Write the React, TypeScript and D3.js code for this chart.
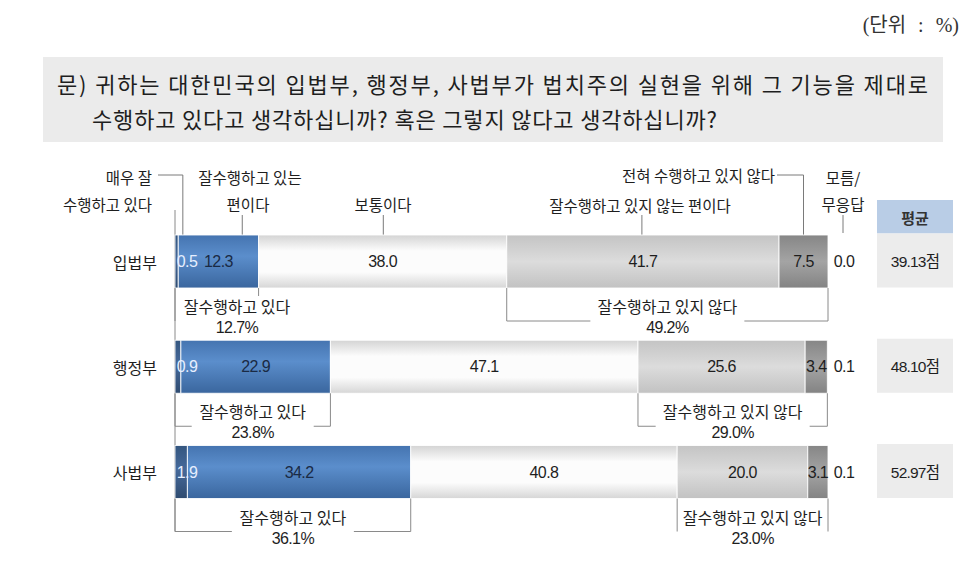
import React from 'react';
import * as d3 from 'd3';

const categories = ['입법부', '행정부', '사법부'];
const veryWell = [0.5, 0.9, 1.9];
const well = [12.3, 22.9, 34.2];
const neutral = [38.0, 47.1, 40.8];
const notWell = [41.7, 25.6, 20.0];
const notAtAll = [7.5, 3.4, 3.1];
const dontKnow = [0.0, 0.1, 0.1];
const positiveTotal = [12.7, 23.8, 36.1];
const negativeTotal = [49.2, 29.0, 23.0];
const averageScore = ['39.13', '48.10', '52.97'];

const positiveLabel = '잘수행하고 있다';
const negativeLabel = '잘수행하고 있지 않다';
const titleLine1 = '문) 귀하는 대한민국의 입법부, 행정부, 사법부가 법치주의 실현을 위해 그 기능을 제대로';
const titleLine2 = '수행하고 있다고 생각하십니까? 혹은 그렇지 않다고 생각하십니까?';
const unitLabel = '(단위 : %)';
const avgHeader = '평균';

const SANS = "'Liberation Sans', 'Noto Sans CJK KR', sans-serif";
const KR = "'Noto Sans CJK KR', 'Liberation Sans', sans-serif";
const SERIF = "'Liberation Serif', 'Noto Sans CJK KR', serif";

const segKeys = ['vw', 'w', 'n', 'nw', 'na'];
const gradients: Record<string, [number, string][]> = {
  vw: [[0, '#34567f'], [0.45, '#46699a'], [1, '#2e4b70']],
  w: [[0, '#4574b0'], [0.4, '#5b8ecc'], [1, '#3a669e']],
  n: [[0, '#d4d4d4'], [0.3, '#fcfcfc'], [0.7, '#fcfcfc'], [1, '#d6d6d6']],
  nw: [[0, '#c4c4c4'], [0.5, '#dcdcdc'], [1, '#c2c2c2']],
  na: [[0, '#868686'], [0.5, '#a4a4a4'], [1, '#838383']],
};

export default function App() {
  const W = 976;
  const H = 569;
  const x = d3.scaleLinear().domain([0, 100]).range([175, 828]);
  const y = d3.scalePoint<string>().domain(categories).range([261.5, 472]);
  const barH = 53;
  const lineColor = '#8a8a8a';
  const ink = '#1e1e1e';

  const rows = categories.map((cat, i) => {
    const vals = [veryWell[i], well[i], neutral[i], notWell[i], notAtAll[i]];
    let acc = 0;
    const segs = vals.map((v, k) => {
      const s = acc;
      acc += v;
      return { key: segKeys[k], v, x0: x(s), x1: x(acc) };
    });
    return { cat, i, segs, cy: y(cat) as number };
  });

  const row0 = rows[0];
  const top0 = row0.cy - barH / 2;

  const bracket = (
    xl: number, xr: number, barBottom: number, label: string, pct: number,
    center: number, gapHalf: number, textHalf: number, key: string
  ) => {
    const yb = barBottom + 33;
    const parts: JSX.Element[] = [];
    [xl, xr].forEach((xx, j) => {
      const crosses = xx > center - textHalf && xx < center + textHalf;
      parts.push(
        <line key={key + 'v' + j} x1={xx} x2={xx} y1={barBottom} y2={crosses ? barBottom + 8 : yb}
          stroke={lineColor} strokeWidth={1} />
      );
    });
    if (center - gapHalf > xl + 1) {
      parts.push(<line key={key + 'h1'} x1={xl} x2={center - gapHalf} y1={yb} y2={yb} stroke={lineColor} />);
    }
    if (center + gapHalf < xr - 1) {
      parts.push(<line key={key + 'h2'} x1={center + gapHalf} x2={xr} y1={yb} y2={yb} stroke={lineColor} />);
    }
    parts.push(
      <text key={key + 't1'} x={center} y={barBottom + 18} textAnchor="middle" dominantBaseline="central"
        fontFamily={KR} fontSize={16} fill={ink}>{label}</text>
    );
    parts.push(
      <text key={key + 't2'} x={center} y={barBottom + 39.5} textAnchor="middle" dominantBaseline="central"
        fontFamily={SANS} fontSize={16} letterSpacing={-0.6} fill={ink}>{pct.toFixed(1)}%</text>
    );
    return parts;
  };

  return (
    <svg width={W} height={H} viewBox={`0 0 ${W} ${H}`}
      style={{ position: 'absolute', left: 0, top: 0, display: 'block', background: '#fff' }}>
      <defs>
        {Object.entries(gradients).map(([k, stops]) => (
          <linearGradient key={k} id={'g-' + k} x1="0" y1="0" x2="0" y2="1">
            {stops.map(([o, c], j) => <stop key={j} offset={o} stopColor={c} />)}
          </linearGradient>
        ))}
      </defs>

      {/* unit */}
      <text x={959} y={25} textAnchor="end" dominantBaseline="central" fontFamily={SERIF}
        fontSize={20} fill="#333" style={{ wordSpacing: '7px' }}>{unitLabel}</text>

      {/* question box */}
      <rect x={43} y={57} width={900} height={85} fill="#ebebeb" />
      <text x={57} y={83} dominantBaseline="central" fontFamily={KR} fontSize={22} fill={ink}
        textLength={871} lengthAdjust="spacing">{titleLine1}</text>
      <text x={92} y={118} dominantBaseline="central" fontFamily={KR} fontSize={22} fill={ink}
        textLength={625} lengthAdjust="spacing">{titleLine2}</text>

      {/* header annotations */}
      <g fontFamily={KR} fontSize={15.5} fill={ink}>
        <text x={152} y={177} textAnchor="end" dominantBaseline="central">매우 잘</text>
        <text x={152} y={204} textAnchor="end" dominantBaseline="central">수행하고 있다</text>
        <text x={250} y={177} textAnchor="middle" dominantBaseline="central">잘수행하고 있는</text>
        <text x={248} y={204} textAnchor="middle" dominantBaseline="central">편이다</text>
        <text x={383} y={204} textAnchor="middle" dominantBaseline="central">보통이다</text>
        <text x={640} y={205} textAnchor="middle" dominantBaseline="central">잘수행하고 있지 않는 편이다</text>
        <text x={775} y={175} textAnchor="end" dominantBaseline="central">전혀 수행하고 있지 않다</text>
        <text x={843} y={177} textAnchor="middle" dominantBaseline="central">모름/</text>
        <text x={843} y={204} textAnchor="middle" dominantBaseline="central">무응답</text>
      </g>
      <g stroke="#7a7a7a" strokeWidth={1} fill="none">
        <polyline points={`158,175 ${x(1.2)},175 ${x(1.2)},${top0}`} />
        <line x1={x(10.3)} x2={x(10.3)} y1={215} y2={top0} />
        <line x1={x(31.9)} x2={x(31.9)} y1={215} y2={top0} />
        <line x1={x(71.5)} x2={x(71.5)} y1={215} y2={top0} />
        <polyline points={`777,175 ${(row0.segs[4].x0 + row0.segs[4].x1) / 2},175 ${(row0.segs[4].x0 + row0.segs[4].x1) / 2},${top0}`} />
        <line x1={843} x2={843} y1={215} y2={top0 - 2} />
      </g>

      {/* long left line */}
      <line x1={175} x2={175} y1={210} y2={rows[2].cy + barH / 2 + 33} stroke={lineColor} />

      {/* bars */}
      {rows.map(r => {
        const top = r.cy - barH / 2;
        const bottom = r.cy + barH / 2;
        return (
          <g key={r.cat}>
            <text x={157} y={r.cy} textAnchor="end" dominantBaseline="central" fontFamily={KR}
              fontSize={16} fill={ink}>{r.cat}</text>
            {r.segs.map(s => (
              <rect key={s.key} x={s.x0} y={top} width={Math.max(0, s.x1 - s.x0)} height={barH}
                fill={`url(#g-${s.key})`} stroke="#ffffff" strokeOpacity={0.85} strokeWidth={1} />
            ))}
            {r.segs.map(s => {
              const isVW = s.key === 'vw';
              const cx = isVW ? Math.max((s.x0 + s.x1) / 2, x(0) + 12) : (s.x0 + s.x1) / 2;
              const fill = isVW ? '#e6efff' : (s.key === 'w' ? '#1a2a44' : ink);
              return (
                <text key={s.key + 't'} x={cx} y={r.cy} textAnchor="middle" dominantBaseline="central"
                  fontFamily={SANS} fontSize={16} letterSpacing={-0.6} fill={fill}>{s.v.toFixed(1)}</text>
              );
            })}
            <text x={844} y={r.cy} textAnchor="middle" dominantBaseline="central" fontFamily={SANS}
              fontSize={16} letterSpacing={-0.6} fill={ink}>{dontKnow[r.i].toFixed(1)}</text>
            {bracket(x(0), r.segs[1].x1, bottom, positiveLabel, positiveTotal[r.i],
              Math.max((x(0) + r.segs[1].x1) / 2, x(0) + 62), 61, 55, 'p' + r.i)}
            {bracket(r.segs[3].x0, r.segs[4].x1, bottom, negativeLabel, negativeTotal[r.i],
              (r.segs[3].x0 + r.segs[4].x1) / 2, 77, 71, 'n' + r.i)}
          </g>
        );
      })}

      {/* averages */}
      <rect x={877} y={200} width={76} height={row0.cy - 28 - 200} fill="#b9cde6" />
      <text x={915} y={(200 + row0.cy - 28) / 2 + 1} textAnchor="middle" dominantBaseline="central"
        fontFamily={KR} fontSize={15} fontWeight={700} fill="#333">{avgHeader}</text>
      {rows.map(r => (
        <g key={'avg' + r.i}>
          <rect x={877} y={r.cy - 28} width={76} height={54} fill="#ececec" />
          <text x={915} y={r.cy} textAnchor="middle" dominantBaseline="central" fontFamily={SANS}
            fontSize={15.5} letterSpacing={-0.8} fill={ink}>{averageScore[r.i]}점</text>
        </g>
      ))}
    </svg>
  );
}
